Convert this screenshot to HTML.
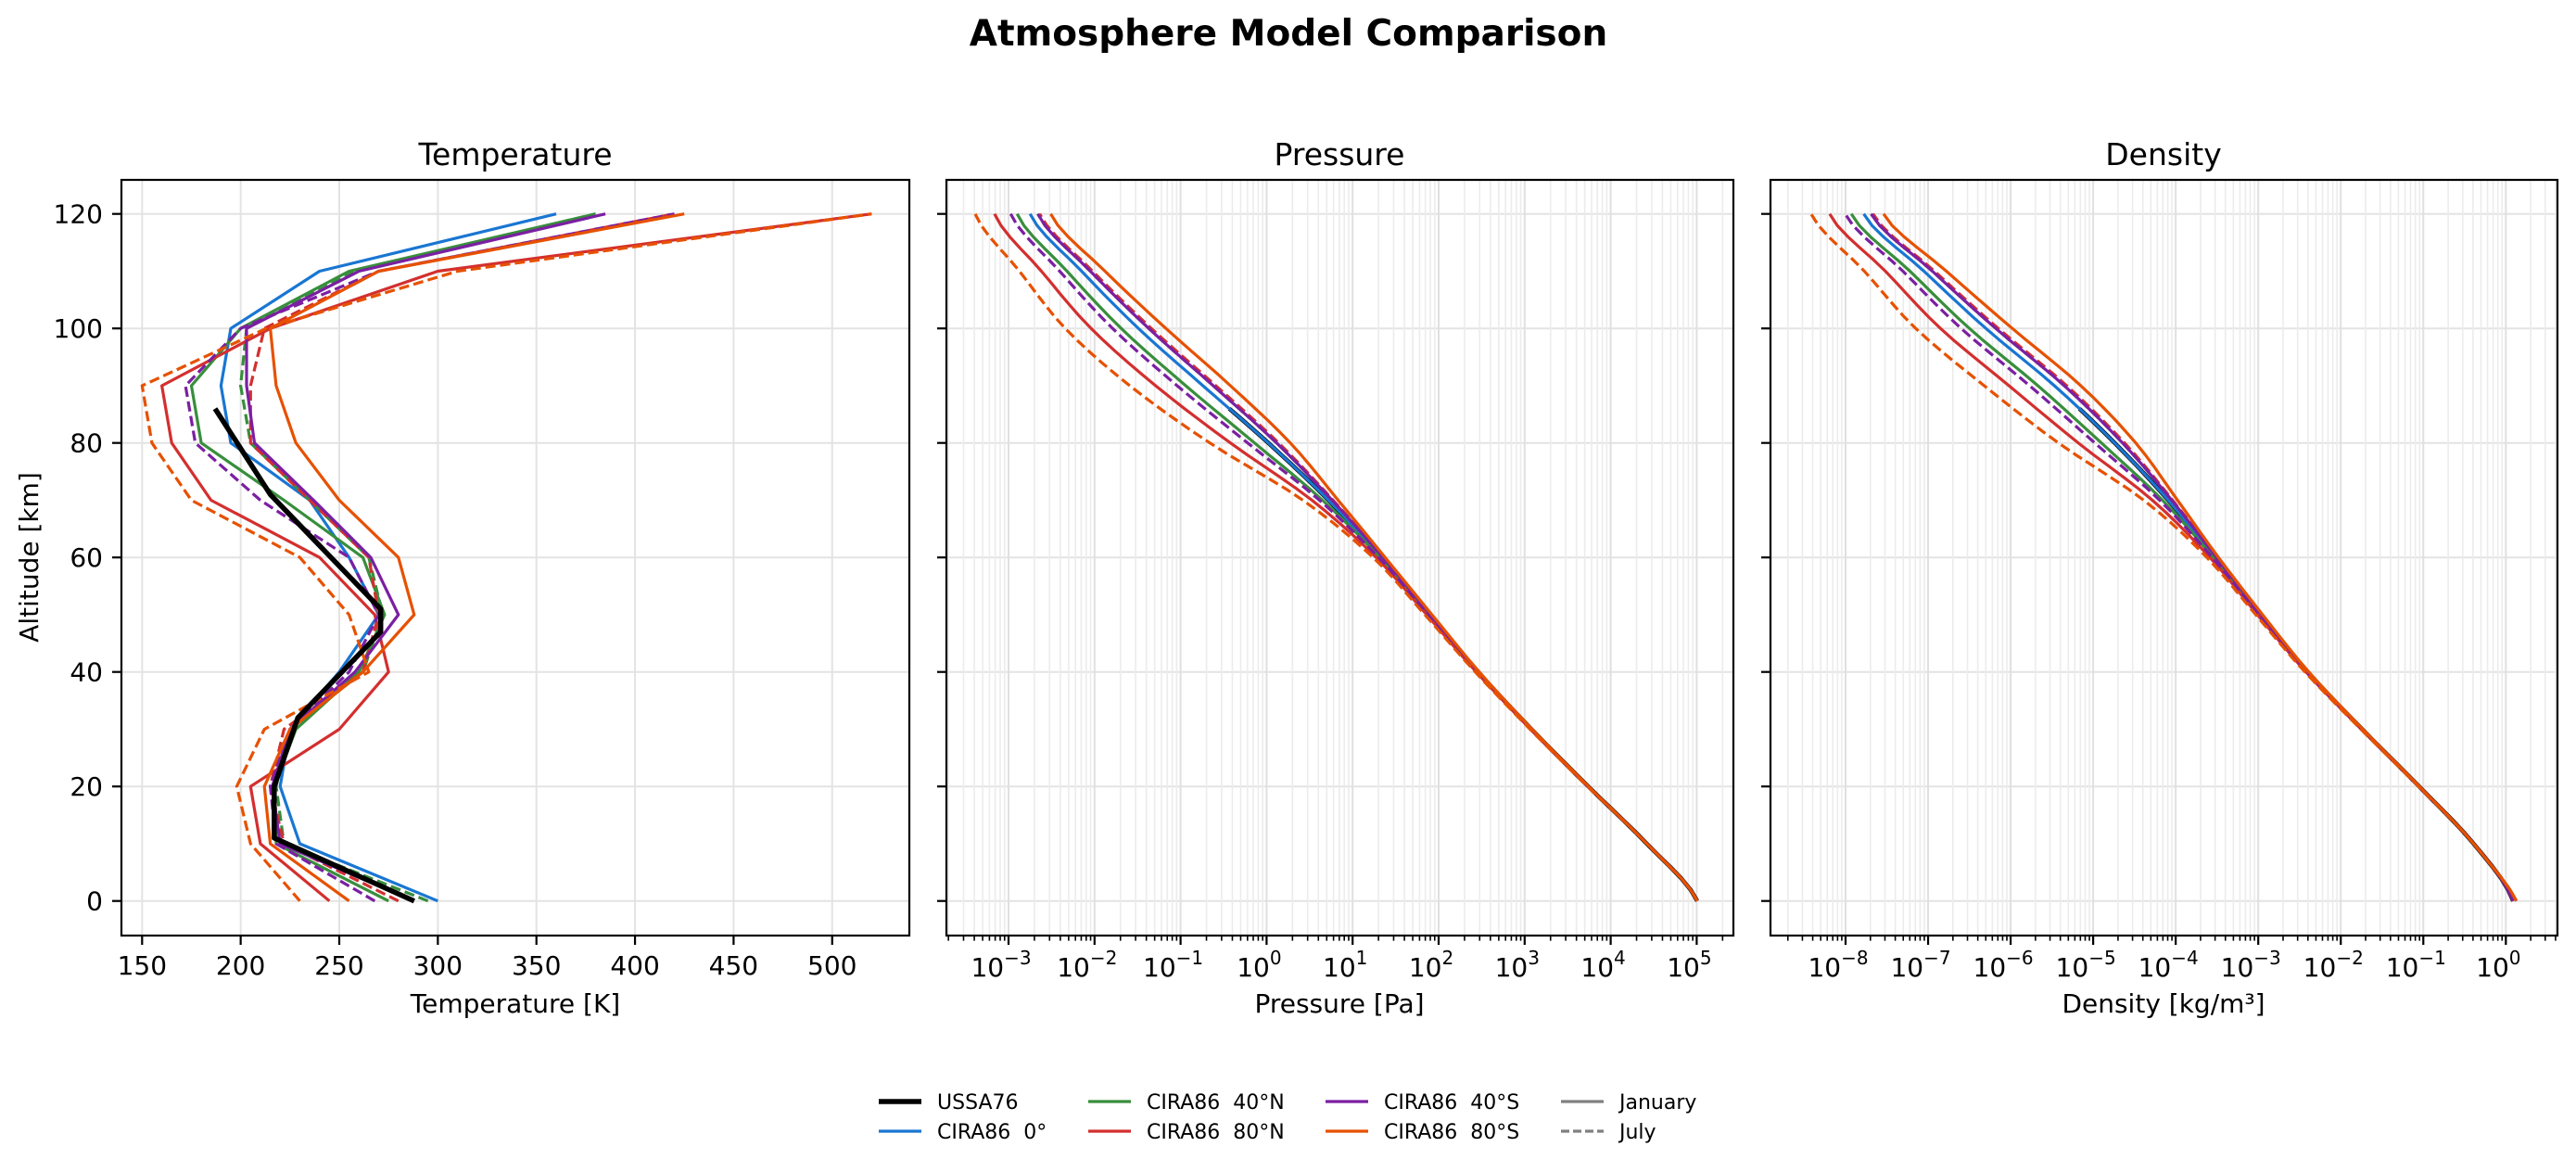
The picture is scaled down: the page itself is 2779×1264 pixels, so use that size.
<!DOCTYPE html>
<html><head><meta charset="utf-8">
<style>
html,body{margin:0;padding:0;background:#fff;}
svg{display:block;}
text{font-family:"DejaVu Sans","Liberation Sans",sans-serif;fill:#000;}
</style></head>
<body>
<svg id="s" width="2779" height="1264" viewBox="0 0 2779 1264" xmlns="http://www.w3.org/2000/svg">
<rect width="2779" height="1264" fill="#fff"/>
<g id="grid"></g>
<g id="series"></g>
<g id="frames" fill="none" stroke="#000" stroke-width="2.2">
<rect x="131" y="194" width="850" height="815"/>
<rect x="1021" y="194" width="849" height="815"/>
<rect x="1910" y="194" width="849" height="815"/>
</g>
<g id="ticks" stroke="#000" stroke-width="2.2"></g>
<text x="1390" y="49" font-size="39" font-weight="bold" text-anchor="middle">Atmosphere Model Comparison</text>
<text x="556" y="178" font-size="33" text-anchor="middle">Temperature</text>
<text x="1445" y="178" font-size="33" text-anchor="middle">Pressure</text>
<text x="2334" y="178" font-size="33" text-anchor="middle">Density</text>
<text transform="translate(41,601) rotate(-90)" font-size="28" text-anchor="middle">Altitude [km]</text>
<text x="556" y="1092" font-size="28" text-anchor="middle">Temperature [K]</text>
<text x="1445" y="1092" font-size="28" text-anchor="middle">Pressure [Pa]</text>
<text x="2334" y="1092" font-size="28" text-anchor="middle">Density [kg/m³]</text>
<g id="labels" font-size="28"></g>
<g id="legend" font-size="22"></g>
</svg>
<script>
const NS="http://www.w3.org/2000/svg";
function el(p,t,a,txt){const e=document.createElementNS(NS,t);for(const k in a)e.setAttribute(k,a[k]);if(txt!==undefined)e.textContent=txt;document.getElementById(p).appendChild(e);return e;}
const yz=z=>971.7-z*6.175;
const tx=T=>153.3+(T-150)*2.127;
const px=L=>1088+(L+3)*92.8;
const dx=L=>1991+(L+8)*89.04;
const GC="#e3e3e3";
for(let T=150;T<=500;T+=50){el("grid","line",{x1:tx(T),x2:tx(T),y1:194,y2:1009,stroke:GC,"stroke-width":2});
 el("ticks","line",{x1:tx(T),x2:tx(T),y1:1009,y2:1019});
 el("labels","text",{x:tx(T),y:1051,"text-anchor":"middle"},String(T));}
for(let z=0;z<=120;z+=20){
 for(const [a,b] of [[131,981],[1021,1870],[1910,2759]]){
  el("grid","line",{x1:a,x2:b,y1:yz(z),y2:yz(z),stroke:GC,"stroke-width":2});
  el("ticks","line",{x1:a-10,x2:a,y1:yz(z),y2:yz(z)});}
 el("labels","text",{x:111,y:yz(z)+10,"text-anchor":"end"},String(z));}
function logAxis(fx,lo,hi,majors){
 for(let d=Math.floor(lo);d<=Math.ceil(hi);d++){
  for(let m=1;m<10;m++){const L=d+Math.log10(m);if(L<lo||L>hi)continue;const x=fx(L);
   el("grid","line",{x1:x,x2:x,y1:194,y2:1009,stroke:m==1?"#e0e0e0":"#ececec","stroke-width":m==1?2:1.6});
   el("ticks","line",{x1:x,x2:x,y1:1009,y2:1009+(m==1?10:5.6),"stroke-width":m==1?2.2:1.6});
   if(m==1&&majors.includes(d)){
    const t=el("labels","text",{x:x-8,y:1053,"text-anchor":"middle"});
    const a1=document.createElementNS(NS,"tspan");a1.textContent="10";t.appendChild(a1);
    const a2=document.createElementNS(NS,"tspan");a2.setAttribute("dy","-13");a2.setAttribute("font-size","20");a2.textContent=d<0?"\u2212"+(-d):String(d);t.appendChild(a2);
   }}}}
logAxis(px,-3.725,5.427,[-3,-2,-1,0,1,2,3,4,5]);
logAxis(dx,-8.913,0.629,[-8,-7,-6,-5,-4,-3,-2,-1,0]);
const C={blue:"#1976D2",green:"#388E3C",red:"#D32F2F",purple:"#7B1FA2",orange:"#E65100"};
const Z=[0,10,20,30,40,50,60,70,80,90,100,110,120];
const S=[
 {c:"blue",dash:0,T:[300,230,220,225,250,270,255,235,195,190,195,240,360],d:0},
 {c:"green",dash:0,T:[275,218,217,228,260,273,262,222,180,175,200,255,380],d:-0.2},
 {c:"green",dash:1,T:[295,222,218,225,262,272,265,235,205,200,203,258,380],d:0.12},
 {c:"red",dash:0,T:[245,210,205,250,275,268,240,185,165,160,215,300,520],d:-0.55},
 {c:"red",dash:1,T:[280,222,215,222,262,270,265,235,205,205,212,270,420],d:0.15},
 {c:"purple",dash:0,T:[288,220,216,225,258,280,266,237,207,203,203,260,385],d:0.12},
 {c:"purple",dash:1,T:[268,218,215,225,255,270,255,210,177,172,200,270,420],d:-0.3},
 {c:"orange",dash:0,T:[255,215,212,225,262,288,280,250,228,218,215,270,425],d:0.32},
 {c:"orange",dash:1,T:[230,205,198,212,265,255,230,175,155,150,213,310,520],d:-0.85}
];
const PB=[5.006,4.42,3.74,3.08,2.46,1.90,1.34,0.72,0.02,-0.74,-1.49,-2.15,-2.75];
const DB=[0.088,-0.39,-1.05,-1.74,-2.40,-2.97,-3.52,-4.09,-4.74,-5.47,-6.30,-7.05,-7.78];
const G=[0,0,0.01,0.02,0.04,0.07,0.12,0.35,0.8,1.0,1.0,0.85,0.75];
function smooth(arr,z){
 const i=Math.min(11,Math.floor(z/10)),t=(z-i*10)/10;
 const p0=arr[Math.max(0,i-1)],p1=arr[i],p2=arr[i+1],p3=arr[Math.min(12,i+2)];
 return 0.5*((2*p1)+(-p0+p2)*t+(2*p0-5*p1+4*p2-p3)*t*t+(-p0+3*p1-3*p2+p3)*t*t*t);}
function poly(pts,col,dash,w){const a={points:pts.map(p=>p[0].toFixed(1)+","+p[1].toFixed(1)).join(" "),fill:"none",stroke:col,"stroke-width":w||3.2,"stroke-linejoin":"round"};if(dash)a["stroke-dasharray"]="11 5";el("series","polyline",a);}
// USSA76 first (underneath)
const US=[[0,288],[11,217],[20,217],[32,229],[47,271],[51,271],[71,215],[86,187]];
const up=[],ud=[];for(let z=0;z<=86;z+=2){up.push([px(smooth(PB,z)),yz(z)]);ud.push([dx(smooth(DB,z)),yz(z)]);}
poly(up,"#000",0,4.5);poly(ud,"#000",0,4.5);
for(const s of S){
 poly(Z.map((z,i)=>[tx(s.T[i]),yz(z)]),C[s.c],s.dash);
 const pp=[],dp=[];
 for(let z=0;z<=120;z+=2){const g=smooth(G,z);pp.push([px(smooth(PB,z)+s.d*g),yz(z)]);dp.push([dx(smooth(DB,z)+s.d*g+(z<5?(s.c=="orange"?0.04:0)*(5-z)/5:0)),yz(z)]);}
 poly(pp,C[s.c],s.dash);poly(dp,C[s.c],s.dash);
}
poly(US.map(p=>[tx(p[1]),yz(p[0])]),"#000",0,5.5);
const LG=[[948,1188,"#000",0,"USSA76",5.5],[948,1220,C.blue,0,"CIRA86\u00a0\u00a00°"],[1174,1188,C.green,0,"CIRA86\u00a0\u00a040°N"],[1174,1220,C.red,0,"CIRA86\u00a0\u00a080°N"],
[1430,1188,C.purple,0,"CIRA86\u00a0\u00a040°S"],[1430,1220,C.orange,0,"CIRA86\u00a0\u00a080°S"],[1684,1188,"#808080",0,"January"],[1684,1220,"#808080",1,"July"]];
for(const [x,y,c,d,t,w] of LG){const a={x1:x,x2:x+46,y1:y,y2:y,stroke:c,"stroke-width":w||3.2};if(d)a["stroke-dasharray"]="9 4";el("legend","line",a);
 el("legend","text",{x:x+63,y:y+8},t);}
</script>
</body></html>
